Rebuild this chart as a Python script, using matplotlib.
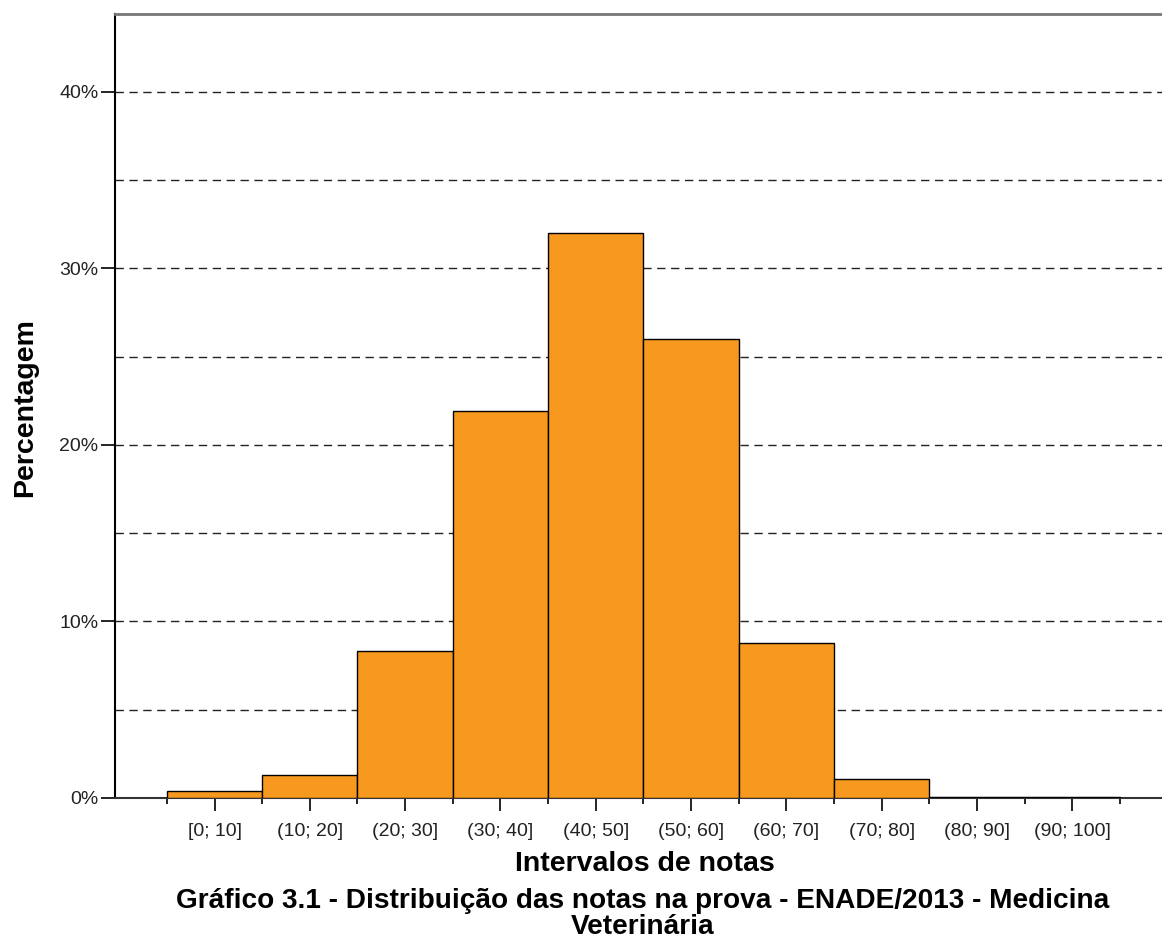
import numpy as np
import matplotlib.pyplot as plt
from matplotlib.ticker import FixedLocator, FuncFormatter

# data
intervals = ['[0; 10]', '(10; 20]', '(20; 30]', '(30; 40]', '(40; 50]',
             '(50; 60]', '(60; 70]', '(70; 80]', '(80; 90]', '(90; 100]']
percentages = [0.4, 1.3, 8.3, 21.9, 32.0, 26.0, 8.8, 1.1, 0.05, 0.03]

bar_color = '#F7991F'

W, H = 1162, 940
fig = plt.figure(figsize=(W / 100, H / 100), dpi=100)
ax = fig.add_axes([115 / W, (H - 798) / H, (W - 115) / W, (798 - 14) / H])

pos = np.arange(len(intervals))
ax.bar(pos, percentages, width=1.0, color=bar_color, edgecolor='black',
       linewidth=1.0, zorder=3)

ax.set_xlim(-1.044, 9.94)
ax.set_ylim(0, 44.4)

# dashed grid every 5%
for yv in np.arange(5, 41, 5):
    ax.axhline(yv, color='#222222', linestyle=(0, (6, 4)), linewidth=1.0,
               zorder=1)

ax.yaxis.set_major_locator(FixedLocator([0, 10, 20, 30, 40]))
ax.yaxis.set_major_formatter(FuncFormatter(lambda v, p: f'{int(v)}%'))
ax.set_xticks(pos)
ax.set_xticklabels(intervals)
ax.xaxis.set_minor_locator(FixedLocator(np.arange(-0.5, 10.0, 1.0)))

ax.tick_params(axis='x', which='major', length=9, width=1.2, pad=9,
               labelsize=14, colors='black')
ax.tick_params(axis='x', which='minor', length=4, width=1.2)
ax.tick_params(axis='y', which='major', length=10, width=1.2, pad=2,
               labelsize=14)
for lbl in ax.get_xticklabels() + ax.get_yticklabels():
    lbl.set_fontfamily('Liberation Sans')
    lbl.set_color('#222222')

ax.spines['right'].set_visible(False)
ax.spines['top'].set_color('#777777')
ax.spines['top'].set_linewidth(2.0)
ax.spines['left'].set_color('black')
ax.spines['left'].set_linewidth(1.5)
ax.spines['bottom'].set_color('#333333')
ax.spines['bottom'].set_linewidth(1.5)

fig.text(25 / W, 1 - 408 / H, 'Percentagem', rotation=90, ha='center',
         va='center', fontsize=20.5, fontweight='bold',
         family='Liberation Sans')
fig.text(645 / W, 1 - 864 / H, 'Intervalos de notas', ha='center',
         va='center', fontsize=20.5, fontweight='bold',
         family='Liberation Sans')
fig.text(643 / W, 1 - 914 / H,
         'Gráfico 3.1 - Distribuição das notas na prova - ENADE/2013 - Medicina\nVeterinária',
         ha='center', va='center', fontsize=20.2, fontweight='bold',
         family='Liberation Sans', linespacing=1.03)

fig.savefig('out.png', dpi=100)
